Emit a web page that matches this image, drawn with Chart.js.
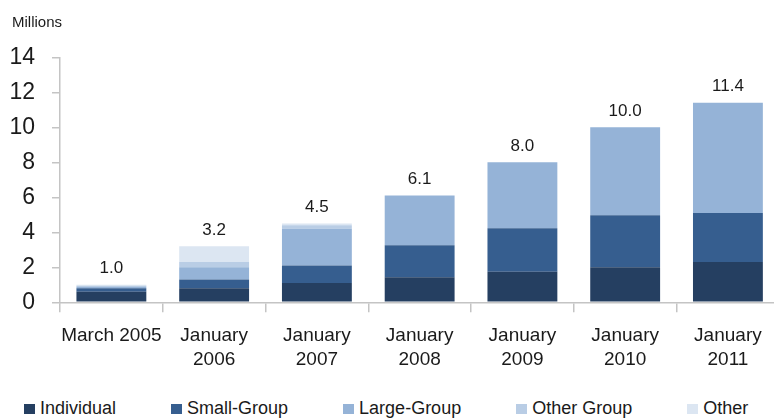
<!DOCTYPE html>
<html>
<head>
<meta charset="utf-8">
<script src="https://cdn.jsdelivr.net/npm/chart.js@4.4.1/dist/chart.umd.min.js"></script>
<style>
    html, body { margin: 0; padding: 0; background: #fff; overflow: hidden; width: 774px; height: 418px; }
    #wrap { position: relative; width: 782px; height: 395px; }
    #legend { position: absolute; left: 24px; top: 398px; display: flex; font-family: "Liberation Sans", Arial, sans-serif; font-size: 18px; color: #1a1a1a; white-space: nowrap; }
    .lg-item { display: flex; align-items: center; margin-right: 55px; }
    .lg-box { width: 11px; height: 10px; margin-right: 5px; }
</style>
</head>
<body>
<div id="wrap"><canvas id="chart" width="782" height="395"></canvas></div>
<div id="legend"></div>
<script>
// ===== DATA =====
const categories = [['March 2005'], ['January', '2006'], ['January', '2007'], ['January', '2008'], ['January', '2009'], ['January', '2010'], ['January', '2011']];
const individual = [0.6, 0.8, 1.1, 1.43, 1.75, 2.0, 2.3];
const smallGroup = [0.2, 0.5, 1.0, 1.83, 2.48, 2.97, 2.8];
const largeGroup = [0.1, 0.7, 2.1, 2.84, 3.77, 5.03, 6.3];
const otherGroup = [0.05, 0.3, 0.2, 0, 0, 0, 0];
const other = [0.05, 0.9, 0.1, 0, 0, 0, 0];
const totalLabels = ['1.0', '3.2', '4.5', '6.1', '8.0', '10.0', '11.4'];
const yTicks = [0, 2, 4, 6, 8, 10, 12, 14];

const series = [
    { label: 'Individual', data: individual, color: '#253f61' },
    { label: 'Small-Group', data: smallGroup, color: '#365e8f' },
    { label: 'Large-Group', data: largeGroup, color: '#95b3d7' },
    { label: 'Other Group', data: otherGroup, color: '#b9cde5' },
    { label: 'Other', data: other, color: '#dce6f2' }
];

const AXIS_GREY = '#c4c4c4';

// totals above the stacks + the "Millions" unit note
const totalsPlugin = {
    id: 'totals',
    afterDatasetsDraw(chart) {
        const { ctx, scales: { x, y } } = chart;
        ctx.save();
        ctx.fillStyle = '#1a1a1a';
        ctx.font = '17px "Liberation Sans", Arial, sans-serif';
        ctx.textAlign = 'center';
        ctx.textBaseline = 'alphabetic';
        totalLabels.forEach((t, i) => {
            const sum = series.reduce((a, s) => a + s.data[i], 0);
            ctx.fillText(t, x.getPixelForValue(i), y.getPixelForValue(sum) - 11.5);
        });
        ctx.font = '15px "Liberation Sans", Arial, sans-serif';
        ctx.textAlign = 'left';
        ctx.fillText('Millions', 12, 27);
        ctx.restore();
    }
};

const ctx = document.getElementById('chart').getContext('2d');
new Chart(ctx, {
    type: 'bar',
    data: {
        labels: categories,
        datasets: series.map(s => ({
            label: s.label,
            data: s.data,
            backgroundColor: s.color,
            borderWidth: 0,
            barPercentage: 0.68,
            categoryPercentage: 1.0
        }))
    },
    options: {
        responsive: false,
        animation: false,
        layout: { padding: { top: 57.3, right: 2.7, left: 0, bottom: 0 } },
        plugins: {
            legend: { display: false },
            tooltip: { enabled: false }
        },
        scales: {
            x: {
                stacked: true,
                afterFit: s => { s.height = 92.7; },
                border: { color: AXIS_GREY, width: 1.5 },
                grid: { display: true, drawOnChartArea: false, drawTicks: true, tickLength: 10, color: AXIS_GREY, lineWidth: 1.5, offset: true },
                ticks: {
                    color: '#1a1a1a',
                    padding: 12,
                    maxRotation: 0,
                    autoSkip: false,
                    font: { family: '"Liberation Sans", Arial, sans-serif', size: 19, lineHeight: 1.25 }
                }
            },
            y: {
                stacked: true,
                min: 0,
                max: 14,
                afterFit: s => { s.width = 60; },
                afterBuildTicks: s => { s.ticks = yTicks.map(v => ({ value: v })); },
                border: { color: AXIS_GREY, width: 1.5 },
                grid: { display: true, drawOnChartArea: false, drawTicks: true, tickLength: 8, color: AXIS_GREY, lineWidth: 1.5 },
                ticks: {
                    color: '#1a1a1a',
                    padding: 17,
                    font: { family: '"Liberation Sans Narrow", "Liberation Sans", Arial, sans-serif', size: 23 }
                }
            }
        }
    },
    plugins: [totalsPlugin]
});

// ===== LEGEND =====
document.getElementById('legend').innerHTML = series.map(s =>
    `<div class="lg-item"><span class="lg-box" style="background:${s.color}"></span>${s.label}</div>`
).join('');
</script>
</body>
</html>
